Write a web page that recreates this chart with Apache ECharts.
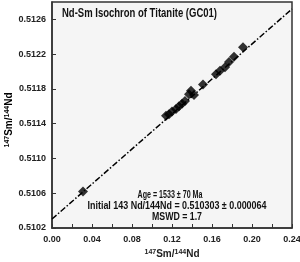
<!DOCTYPE html>
<html><head><meta charset="utf-8">
<script src="https://cdn.jsdelivr.net/npm/echarts@6/dist/echarts.min.js"></script>
<style>html,body{margin:0;padding:0;background:#fff}#c{width:300px;height:262px}</style>
</head><body><div id="c"></div>
<script>
var sampleX = [0.031, 0.114, 0.117, 0.120, 0.124, 0.127, 0.130, 0.133, 0.137, 0.139, 0.142, 0.151, 0.164, 0.168, 0.173, 0.177, 0.182, 0.191];
var sampleY = [0.51062, 0.51149, 0.51151, 0.51154, 0.51157, 0.51160, 0.51163, 0.51166, 0.51174, 0.51178, 0.51173, 0.51185, 0.51197, 0.51201, 0.51205, 0.51211, 0.51217, 0.51228];
var isoX = [0, 0.24];
var isoY = [0.510303, 0.51272];
var xTicks = [0, 0.04, 0.08, 0.12, 0.16, 0.20, 0.24];
var yTicks = [0.5102, 0.5106, 0.5110, 0.5114, 0.5118, 0.5122, 0.5126];
var titleText = 'Nd-Sm Isochron of Titanite (GC01)';
var notes = ['Age = 1533 \u00b1 70 Ma', 'Initial 143 Nd/144Nd = 0.510303 \u00b1 0.000064', 'MSWD = 1.7'];
var axisName = '{s|147}{n|Sm/}{s|144}{n|Nd}';

var FONT = '"Liberation Sans", Arial, sans-serif';
var ctx = document.createElement('canvas').getContext('2d');
function fitText(text, font, target) {
  ctx.font = font;
  return target / ctx.measureText(text).width;
}
var chart = echarts.init(document.getElementById('c'));
var pts = sampleX.map(function (x, i) { return [x, sampleY[i]]; });
var line = isoX.map(function (x, i) { return [x, isoY[i]]; });
var nameRich = {
  n: { fontFamily: FONT, fontWeight: 'bold', fontSize: 10, color: '#222' },
  s: { fontFamily: FONT, fontWeight: 'bold', fontSize: 7, color: '#222', verticalAlign: 'top', padding: [0, 0, 4, 0] }
};
function noteText(i, cx, cy, w) {
  var f = 'bold 10px ' + FONT;
  return { type: 'text', x: cx, y: cy, scaleX: fitText(notes[i], f, w), originX: 0,
    style: { text: notes[i], font: f, fill: '#111', align: 'center', verticalAlign: 'middle' }, z: 10 };
}
var tf = 'bold 12px ' + FONT;
chart.setOption({
  animation: false,
  grid: { left: 52, right: 8, top: 2, bottom: 34, outerBoundsMode: 'none', containLabel: false, show: true, backgroundColor: '#f5f5f5', borderColor: '#333', borderWidth: 1.5 },
  xAxis: {
    type: 'value', min: xTicks[0], max: xTicks[xTicks.length - 1], interval: 0.04,
    axisLine: { show: true, lineStyle: { color: '#333', width: 1.5 } },
    axisTick: { show: true, inside: true, length: 4, lineStyle: { color: '#333' } },
    minorTick: { show: true, splitNumber: 2, length: 4, lineStyle: { color: '#333' } },
    splitLine: { show: false },
    axisLabel: { fontFamily: FONT, fontWeight: 'bold', fontSize: 9, color: '#222', margin: 7,
      formatter: function (v) { return v.toFixed(2); } },
    name: axisName, nameLocation: 'middle', nameGap: 21,
    nameTextStyle: { rich: nameRich }
  },
  yAxis: {
    type: 'value', min: 0.5102, max: 0.5128, interval: 0.0004,
    axisLine: { show: true, lineStyle: { color: '#333', width: 1.5 } },
    axisTick: { show: true, inside: true, length: 4, lineStyle: { color: '#333' } },
    splitLine: { show: false },
    axisLabel: { fontFamily: FONT, fontWeight: 'bold', fontSize: 9, color: '#222', margin: 6, showMaxLabel: false,
      formatter: function (v) { return yTicks.some(function (t) { return Math.abs(t - v) < 1e-7; }) ? v.toFixed(4) : ''; } }
  },
  series: [
    { type: 'line', data: line, showSymbol: false, symbol: 'none',
      lineStyle: { color: '#000', width: 1.5, type: [6, 2, 1.5, 2] }, z: 2 },
    { type: 'scatter', data: pts, symbol: 'diamond', symbolSize: 10,
      itemStyle: { color: '#000' }, z: 3 }
  ],
  graphic: [
    { type: 'text', x: 62, y: 14, scaleX: fitText(titleText, tf, 155), originX: 0,
      style: { text: titleText, font: tf, fill: '#111', align: 'left', verticalAlign: 'middle' }, z: 10 },
    { type: 'text', x: 9, y: 120, rotation: Math.PI / 2,
      style: { text: axisName, rich: nameRich, align: 'center', verticalAlign: 'middle' }, z: 10 },
    noteText(0, 170, 195, 65),
    noteText(1, 177, 206, 179),
    noteText(2, 177, 217, 50)
  ]
});
</script></body></html>
